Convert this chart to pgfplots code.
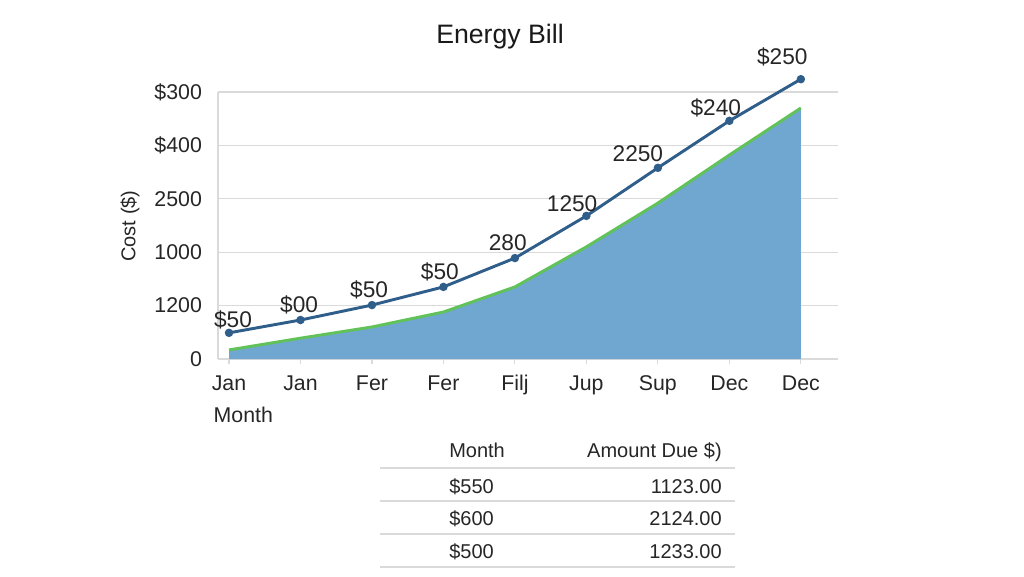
\documentclass[border=0pt]{standalone}
\usepackage{pgfplots}
\pgfplotsset{compat=1.18}
\usepackage{fontspec}
\setmainfont{Liberation Sans}
\definecolor{areablue}{RGB}{111,167,208}
\definecolor{lineblue}{RGB}{47,94,138}
\definecolor{linegreen}{RGB}{98,194,90}
\definecolor{gridgray}{RGB}{218,218,218}
\begin{document}
\begin{tikzpicture}
\useasboundingbox (0,0) rectangle (768pt,432pt);
\begin{axis}[
  at={(163.5pt,162.75pt)}, anchor=south west, scale only axis,
  width=465pt, height=200.25pt,
  xmin=-0.154, xmax=8.52, ymin=0, ymax=5,
  clip=false,
  axis x line=bottom, axis y line=left,
  axis line style={gridgray, line width=0.8pt, -},
  xtick={0,...,8}, xticklabels={Jan,Jan,Fer,Fer,Filj,Jup,Sup,Dec,Dec},
  ytick={0,...,5}, yticklabels={0,1200,1000,2500,\$400,\$300},
  ymajorgrids, grid style={gridgray, line width=0.8pt},
  tick align=outside, major tick length=4pt,
  xtick style={gridgray, line width=0.8pt},
  ytick style={draw=none},
  tick label style={font=\fontsize{16}{19}\selectfont, text=black!85},
  xticklabel style={text height=12pt, text depth=3.5pt, yshift=-4pt},
  yticklabel style={xshift=-4.5pt},
  /pgf/number format/assume math mode=true,
]
% filled area
\addplot[fill=areablue, draw=none, forget plot] coordinates {
  (0,0.17) (1,0.39) (2,0.60) (3,0.88) (4,1.35) (5,2.10) (6,2.92) (7,3.82) (8,4.70)
} \closedcycle;
% green line
\addplot[linegreen, line width=2.2pt, mark=none] coordinates {
  (0,0.17) (1,0.39) (2,0.60) (3,0.88) (4,1.35) (5,2.10) (6,2.92) (7,3.82) (8,4.70)
};
% blue line
\addplot[lineblue, line width=2.2pt, mark=*, mark size=2pt, mark options={fill=lineblue}] coordinates {
  (0,0.49) (1,0.73) (2,1.01) (3,1.35) (4,1.89) (5,2.68) (6,3.58) (7,4.46) (8,5.24)
};
% data labels
\addplot[draw=none, mark=none, nodes near coords, point meta=explicit symbolic,
  nodes near coords style={anchor=center, font=\fontsize{17}{20}\selectfont, text=black!85}]
coordinates {
  (0.056,0.73) [\$50]
  (0.98,1.01) [\$00]
  (1.96,1.29) [\$50]
  (2.95,1.63) [\$50]
  (3.90,2.17) [280]
  (4.80,2.90) [1250]
  (5.72,3.84) [2250]
  (6.81,4.70) [\$240]
  (7.74,5.66) [\$250]
};
\end{axis}
\begin{scope}[x=0.75pt, y=-0.75pt, shift={(0pt,432pt)}]
  \node[font=\fontsize{20}{24}\selectfont, text=black!90] at (500,37) {Energy Bill};
  \node[anchor=west, font=\fontsize{16}{19}\selectfont, text=black!85] at (209,415) {Month};
  \node[rotate=90, font=\fontsize{15}{18}\selectfont, text=black!85] at (130,226) {Cost (\$)};
  % table
  \foreach \yy in {468,501,534,567} {
    \draw[gridgray, line width=0.8pt] (380,\yy) -- (735,\yy);
  }
  \begin{scope}[every node/.style={font=\fontsize{15}{18}\selectfont, text=black!85, inner sep=0pt}]
    \node[anchor=base west] at (449,457) {Month};
    \node[anchor=base east] at (722,457) {Amount Due \$)};
    \node[anchor=base west] at (449,493) {\$550};
    \node[anchor=base east] at (722,493) {1123.00};
    \node[anchor=base west] at (449,525) {\$600};
    \node[anchor=base east] at (722,525) {2124.00};
    \node[anchor=base west] at (449,558) {\$500};
    \node[anchor=base east] at (722,558) {1233.00};
  \end{scope}
\end{scope}
\end{tikzpicture}
\end{document}
